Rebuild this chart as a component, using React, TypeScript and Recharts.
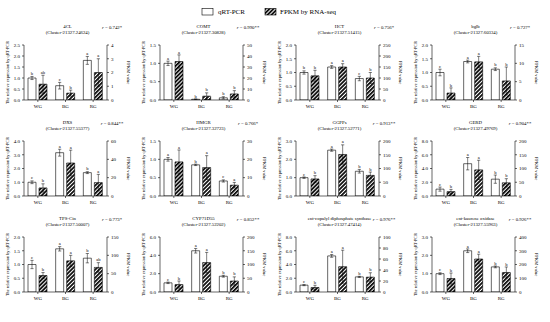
import React from 'react';
import { ComposedChart, Bar, XAxis, YAxis } from 'recharts';

const FONT = '"Liberation Serif", "Times New Roman", serif';

const categories = ['WG', 'BG', 'RG'];

const geneNames = ['4CL', 'COMT', 'HCT', 'bglb', 'DXS', 'HMGR', 'GGPPs', 'GERD', 'TPS-Cin', 'CYP71D55', 'ent-copalyl diphosphate synthase', 'ent-kaurene oxidase'];
const clusterIds = ['(Cluster-21327.24624)', '(Cluster-21327.30828)', '(Cluster-21327.51415)', '(Cluster-21327.60334)', '(Cluster-21327.55377)', '(Cluster-21327.32723)', '(Cluster-21327.52771)', '(Cluster-21327.49769)', '(Cluster-21327.50007)', '(Cluster-21327.52202)', '(Cluster-21327.47414)', '(Cluster-21327.55963)'];
const rLabels = ['0.742*', '0.990**', '0.756*', '0.727*', '0.844**', '0.766*', '0.913**', '0.904**', '0.773*', '0.852**', '0.976**', '0.926**'];

const qrtMean = [
  [1.0, 0.65, 1.8],
  [1.0, 0.02, 0.06],
  [1.0, 1.2, 0.78],
  [1.0, 1.4, 1.12],
  [1.0, 3.15, 1.7],
  [1.0, 0.85, 0.41],
  [1.0, 2.5, 1.35],
  [1.0, 4.7, 2.45],
  [1.0, 1.57, 1.23],
  [1.0, 4.5, 1.72],
  [1.0, 5.25, 2.2],
  [1.0, 2.25, 1.37],
];
const qrtErr = [
  [0.07, 0.15, 0.18],
  [0.06, 0.01, 0.03],
  [0.06, 0.05, 0.08],
  [0.12, 0.05, 0.05],
  [0.1, 0.25, 0.07],
  [0.05, 0.02, 0.03],
  [0.04, 0.06, 0.1],
  [0.3, 0.9, 0.6],
  [0.15, 0.08, 0.17],
  [0.08, 0.25, 0.1],
  [0.08, 0.2, 0.08],
  [0.05, 0.1, 0.05],
];
const qrtLetters = [
  ['b', 'c', 'a'],
  ['a', 'b', 'b'],
  ['b', 'a', 'c'],
  ['c', 'a', 'b'],
  ['c', 'a', 'b'],
  ['a', 'b', 'c'],
  ['c', 'a', 'b'],
  ['c', 'a', 'b'],
  ['c', 'a', 'b'],
  ['c', 'a', 'b'],
  ['c', 'a', 'b'],
  ['c', 'a', 'b'],
];
const fpkmMean = [
  [1.15, 0.5, 2.0],
  [35, 3.5, 5.5],
  [110, 150, 100],
  [1.9, 10.4, 5.2],
  [8.8, 36, 14.6],
  [18.6, 15.5, 5.9],
  [62, 151, 75],
  [16, 95, 48],
  [45, 85, 67],
  [27, 107, 40],
  [8.2, 46, 27],
  [98, 240, 142],
];
const fpkmErr = [
  [0.65, 0.22, 1.0],
  [6, 3, 3],
  [25, 15, 25],
  [1.4, 1.5, 3.8],
  [4.5, 14, 9],
  [6.5, 6.5, 1.5],
  [12, 35, 12],
  [8, 35, 15],
  [8, 15, 13],
  [13, 37, 15],
  [4, 30, 8],
  [40, 35, 40],
];
const fpkmLetters = [
  ['ab', 'b', 'a'],
  ['a', 'b', 'b'],
  ['b', 'a', 'b'],
  ['b', 'a', 'b'],
  ['b', 'a', 'a'],
  ['a', 'a', 'a'],
  ['b', 'a', 'b'],
  ['b', 'a', 'b'],
  ['b', 'a', 'ab'],
  ['b', 'a', 'b'],
  ['b', 'a', 'b'],
  ['b', 'a', 'b'],
];

const leftTicks = [
  [0, 0.5, 1, 1.5, 2, 2.5],
  [0, 0.5, 1, 1.5],
  [0, 0.5, 1, 1.5, 2],
  [0, 0.5, 1, 1.5, 2],
  [0, 1, 2, 3, 4],
  [0, 0.5, 1, 1.5],
  [0, 1, 2, 3],
  [0, 2, 4, 6, 8],
  [0, 0.5, 1, 1.5, 2],
  [0, 2, 4, 6],
  [0, 2, 4, 6, 8],
  [0, 1, 2, 3],
];
const rightTicks = [
  [0, 1, 2, 3, 4],
  [0, 10, 20, 30, 40, 50],
  [0, 50, 100, 150, 200, 250],
  [0, 5, 10, 15],
  [0, 20, 40, 60],
  [0, 10, 20, 30],
  [0, 50, 100, 150, 200],
  [0, 50, 100, 150, 200],
  [0, 50, 100, 150],
  [0, 50, 100, 150, 200],
  [0, 20, 40, 60, 80, 100],
  [0, 100, 200, 300, 400],
];

const PANEL_W = 136;
const AXIS_L = 24;
const AXIS_R = 29;
const PLOT_H = 55;
const MT = 8;
const XAXIS_H = 14;
const ROW_TOPS = [45, 141, 237];

function makeErrShape(letters: string[]) {
  return (props: any) => {
    const { x, y, width, height, payload, index } = props;
    if (x == null || y == null) return null;
    const k = payload && payload.k != null ? payload.k : index;
    const cx = x + width / 2;
    const h = Math.abs(height || 0);
    const top = y;
    const bot = y + 2 * h;
    return (
      <g>
        <line x1={cx} x2={cx} y1={top} y2={bot} stroke="#000" strokeWidth={0.5} />
        <line x1={cx - 1.6} x2={cx + 1.6} y1={top} y2={top} stroke="#000" strokeWidth={0.5} />
        <line x1={cx - 1.6} x2={cx + 1.6} y1={bot} y2={bot} stroke="#000" strokeWidth={0.5} />
        <text x={cx} y={top - 1.4} textAnchor="middle" fontSize={4.6} fontFamily={FONT} fill="#000">
          {letters[k]}
        </text>
      </g>
    );
  };
}

function Panel({ i }: { i: number }) {
  const row = Math.floor(i / 4);
  const col = i % 4;
  const data = categories.map((c, k) => ({
    name: c,
    k,
    q: qrtMean[i][k],
    qe: qrtErr[i][k],
    f: fpkmMean[i][k],
    fe: fpkmErr[i][k],
  }));
  const lt = leftTicks[i];
  const rt = rightTicks[i];
  const tickStyle = { fontSize: 5, fontFamily: FONT, fill: '#000' };
  return (
    <div style={{ position: 'absolute', left: col * PANEL_W, top: ROW_TOPS[row] - MT }}>
      <ComposedChart
        width={PANEL_W}
        height={MT + PLOT_H + XAXIS_H}
        data={data}
        margin={{ top: MT, right: 0, bottom: 0, left: 0 }}
        barSize={8}
        barGap={3}
        barCategoryGap={4}
      >
        <XAxis
          dataKey="name"
          height={XAXIS_H}
          interval={0}
          tick={tickStyle}
          tickSize={2}
          axisLine={{ stroke: '#000', strokeWidth: 0.6 }}
          tickLine={{ stroke: '#000', strokeWidth: 0.6 }}
        />
        <YAxis
          yAxisId="l"
          orientation="left"
          width={AXIS_L}
          domain={[0, lt[lt.length - 1]]}
          ticks={lt}
          allowDataOverflow
          tickFormatter={(v: number) => v.toFixed(1)}
          tick={tickStyle}
          tickSize={2}
          axisLine={{ stroke: '#000', strokeWidth: 0.6 }}
          tickLine={{ stroke: '#000', strokeWidth: 0.6 }}
        />
        <YAxis
          yAxisId="r"
          orientation="right"
          width={AXIS_R}
          domain={[0, rt[rt.length - 1]]}
          ticks={rt}
          allowDataOverflow
          tick={tickStyle}
          tickSize={2}
          axisLine={{ stroke: '#000', strokeWidth: 0.6 }}
          tickLine={{ stroke: '#000', strokeWidth: 0.6 }}
        />
        <Bar yAxisId="l" dataKey="q" stackId="q" fill="#ffffff" stroke="#000" strokeWidth={0.6} isAnimationActive={false} />
        <Bar yAxisId="l" dataKey="qe" stackId="q" fill="none" shape={makeErrShape(qrtLetters[i])} isAnimationActive={false} />
        <Bar yAxisId="r" dataKey="f" stackId="f" fill="url(#hatch)" stroke="#000" strokeWidth={0.6} isAnimationActive={false} />
        <Bar yAxisId="r" dataKey="fe" stackId="f" fill="none" shape={makeErrShape(fpkmLetters[i])} isAnimationActive={false} />
      </ComposedChart>
    </div>
  );
}

function Overlay() {
  const items: React.ReactNode[] = [];
  for (let i = 0; i < 12; i++) {
    const row = Math.floor(i / 4);
    const col = i % 4;
    const px = col * PANEL_W;
    const top = ROW_TOPS[row];
    const cx = px + AXIS_L + (PANEL_W - AXIS_L - AXIS_R) / 2 + 2;
    const midY = top + PLOT_H / 2;
    items.push(
      <g key={i}>
        <text x={cx} y={top - 17.5} textAnchor="middle" fontSize={4.8} fontFamily={FONT}>{geneNames[i]}</text>
        <text x={cx} y={top - 11} textAnchor="middle" fontSize={4.8} fontFamily={FONT}>{clusterIds[i]}</text>
        <text x={px + 112} y={top - 16.5} textAnchor="middle" fontSize={4.8} fontFamily={FONT}>
          <tspan fontStyle="italic">r</tspan> = {rLabels[i]}
        </text>
        <text transform={`translate(${px + 8.5},${midY}) rotate(-90)`} textAnchor="middle" fontSize={4.3} fontFamily={FONT}>
          The relative expression by qRT-PCR
        </text>
        <text transform={`translate(${px + 127},${midY}) rotate(90)`} textAnchor="middle" fontSize={4.6} fontFamily={FONT}>
          FPKM value
        </text>
      </g>
    );
  }
  return (
    <svg width={550} height={322} style={{ position: 'absolute', left: 0, top: 0, pointerEvents: 'none' }}>
      <rect x={202} y={8.5} width={11} height={6.5} fill="#fff" stroke="#000" strokeWidth={0.6} />
      <text x={218} y={14.2} fontSize={7} fontFamily={FONT}>qRT-PCR</text>
      <rect x={265} y={8.5} width={11} height={6.5} fill="url(#hatch)" stroke="#000" strokeWidth={0.6} />
      <text x={280} y={14.2} fontSize={7} fontFamily={FONT}>FPKM by RNA-seq</text>
      {items}
    </svg>
  );
}

export default function App() {
  return (
    <div style={{ position: 'absolute', left: 0, top: 0, width: 550, height: 322, background: '#fff', overflow: 'hidden' }}>
      <svg width={0} height={0} style={{ position: 'absolute' }}>
        <defs>
          <pattern id="hatch" patternUnits="userSpaceOnUse" width={2.8} height={2.8} patternTransform="rotate(45)">
            <rect x={0} y={0} width={2.8} height={2.8} fill="#fff" />
            <rect x={0} y={0} width={1.7} height={2.8} fill="#000" />
          </pattern>
        </defs>
      </svg>
      {Array.from({ length: 12 }, (_, i) => (
        <Panel key={i} i={i} />
      ))}
      <Overlay />
    </div>
  );
}
